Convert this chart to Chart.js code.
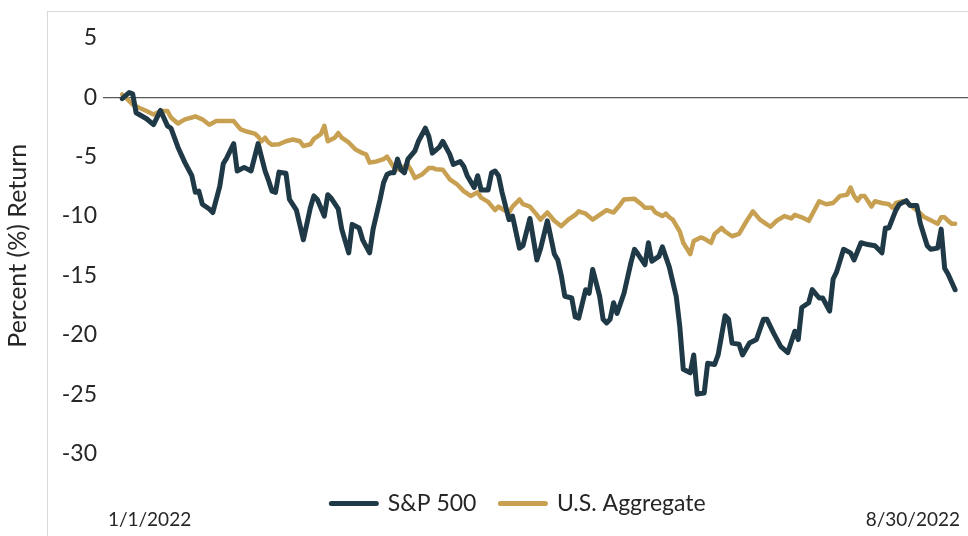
<!DOCTYPE html>
<html>
<head>
<meta charset="utf-8">
<script src="https://cdn.jsdelivr.net/npm/chart.js@4/dist/chart.umd.min.js"></script>
<style>
  body { margin: 0; background: #fff; }
  #wrap { position: relative; width: 968px; height: 536px; overflow: hidden; }
  #frame { position: absolute; left: 47px; top: 11px; width: 940px; height: 560px; border: 1px solid #d9d9d9; }
  #chart { position: relative; }
</style>
</head>
<body>
<div id="wrap">
  <div id="frame"></div>
  <canvas id="chart" width="968" height="536"></canvas>
</div>
<script>
// days counted from 1/1/2022, returns in percent
const seriesNames = ['S&P 500', 'U.S. Aggregate'];
const xTickLabels = ['1/1/2022', '8/30/2022'];

const spDays = [2,4,5,6,9,11,13,15,16,18,20,22,23,24,25,27,28,30,31,32,34,35,37,39,41,43,44,45,46,47,48,49,50,52,54,56,57,58,60,61,62,64,65,67,68,70,71,73,74,76,77,78,79,80,81,82,83,84,86,87,89,90,91,93,94,96,97,99,100,101,103,104,105,107,108,109,110,111,113,114,116,117,119,121,122,124,126,127,128,129,131,132,133,135,136,137,139,140,141,142,143,144,146,148,149,150,152,153,154,156,157,159,161,162,163,165,166,167,169,170,172,173,175,176,177,179,180,182,184,186,187,189,191,193,195,196,197,199,200,202,203,205,206,207,209,211,212,214,216,218,220,221,222,224,225,227,228,230,231,233,234,236,237,238,239,241];
const spReturn = [-0.1,0.4,0.3,-1.3,-1.8,-2.3,-1.1,-2.4,-2.6,-4.2,-5.5,-6.6,-8.0,-7.9,-9.0,-9.4,-9.7,-7.5,-5.6,-5.1,-3.9,-6.2,-5.9,-6.2,-3.9,-6.2,-7.0,-7.9,-8.0,-6.3,-6.35,-6.4,-8.6,-9.5,-12.0,-9.3,-8.3,-8.6,-10.0,-8.2,-8.5,-9.4,-11.1,-13.1,-10.7,-11.0,-12.0,-13.1,-11.1,-8.6,-7.2,-6.5,-6.35,-6.35,-5.2,-6.1,-6.35,-5.2,-4.5,-3.7,-2.6,-3.3,-4.7,-4.2,-3.7,-4.8,-5.65,-5.4,-5.8,-6.6,-7.6,-6.6,-7.8,-7.8,-6.35,-6.2,-6.6,-8.0,-10.3,-10.0,-12.7,-12.5,-10.2,-13.7,-12.8,-10.4,-13.2,-13.7,-15.0,-16.75,-16.9,-18.5,-18.6,-16.2,-16.5,-14.5,-16.75,-18.7,-19.0,-18.7,-17.3,-18.2,-16.5,-13.9,-12.8,-13.2,-14.1,-12.25,-13.8,-13.4,-12.6,-14.3,-16.8,-19.3,-22.9,-23.2,-21.7,-25.0,-24.9,-22.4,-22.5,-21.7,-18.4,-18.7,-20.7,-20.8,-21.7,-20.7,-20.4,-18.7,-18.7,-19.9,-21.0,-21.5,-19.7,-20.4,-17.7,-17.3,-16.2,-16.9,-16.9,-18.0,-15.3,-14.7,-12.8,-13.1,-13.7,-12.25,-12.4,-12.5,-13.1,-11.0,-11.0,-9.5,-9.0,-8.7,-9.1,-9.1,-10.6,-12.5,-12.8,-12.7,-11.1,-14.4,-14.9,-16.2];

const aggDays = [2,3,5,7,9,11,12,13,15,16,18,20,22,23,25,27,29,31,34,36,38,40,41,42,43,44,45,47,49,51,53,54,56,57,59,60,61,63,64,65,67,69,71,72,73,75,77,78,80,81,82,83,84,85,86,88,90,91,92,94,96,98,100,102,104,105,107,109,110,111,113,114,116,117,119,121,122,124,126,128,130,132,133,135,137,139,141,143,145,146,149,151,152,154,155,157,158,159,160,162,163,165,166,168,169,171,172,174,175,177,179,181,183,185,188,190,192,194,195,197,199,202,204,206,208,210,211,212,213,214,215,217,218,220,222,223,224,226,228,229,230,232,234,236,237,238,239,240,241];
const aggReturn = [0.25,0.0,-0.6,-0.9,-1.15,-1.45,-1.3,-1.15,-1.15,-1.7,-2.2,-1.85,-1.7,-1.6,-1.85,-2.3,-2.0,-2.0,-2.0,-2.7,-2.9,-3.05,-3.3,-3.7,-3.4,-3.8,-4.0,-3.95,-3.7,-3.55,-3.7,-4.1,-3.95,-3.5,-3.1,-2.4,-3.7,-3.4,-3.0,-3.4,-3.8,-4.4,-4.7,-4.8,-5.5,-5.4,-5.2,-5.0,-5.9,-6.05,-6.05,-5.8,-5.7,-6.2,-6.8,-6.5,-5.95,-5.95,-6.05,-6.1,-6.9,-7.3,-7.9,-8.3,-8.0,-8.45,-8.8,-9.5,-9.2,-9.4,-9.7,-9.2,-8.6,-9.0,-9.2,-9.9,-10.3,-9.7,-10.4,-10.85,-10.3,-9.9,-9.6,-9.8,-10.3,-9.9,-9.5,-9.7,-9.0,-8.6,-8.55,-9.0,-9.3,-9.3,-9.7,-10.0,-9.8,-10.1,-10.3,-11.3,-12.25,-13.2,-12.1,-11.8,-11.9,-12.25,-11.5,-11.0,-11.3,-11.7,-11.5,-10.5,-9.6,-10.3,-10.9,-10.35,-10.0,-10.2,-9.9,-10.1,-10.4,-8.75,-9.0,-8.9,-8.3,-8.2,-7.6,-8.3,-8.7,-8.3,-8.3,-9.2,-8.75,-8.9,-9.0,-9.3,-8.9,-8.75,-9.0,-9.3,-9.5,-10.05,-10.35,-10.65,-10.1,-10.1,-10.4,-10.65,-10.65];

const ink = '#262626';
Chart.defaults.font.family = 'Lato, "Open Sans", sans-serif';
Chart.defaults.color = ink;

const toPoints = (days, vals) => days.map((d, i) => ({ x: d, y: vals[i] }));

// nudge the legend a little left, the way it sits in the original
const legendShift = {
  id: 'legendShift',
  afterLayout: chart => {
    if (chart.legend) {
      chart.legend.left -= 17;
      chart.legend.right -= 17;
    }
  }
};

const returnChart = new Chart(document.getElementById('chart'), {
  type: 'line',
  data: {
    datasets: [{
      label: seriesNames[0],
      data: toPoints(spDays, spReturn),
      borderColor: '#1f3947',
      borderWidth: 5,
    }, {
      label: seriesNames[1],
      data: toPoints(aggDays, aggReturn),
      borderColor: '#c8a052',
      borderWidth: 4.5,
    }]
  },
  plugins: [legendShift],
  options: {
    responsive: false,
    animation: false,
    layout: { padding: { top: 38, right: 0, bottom: 11, left: 0 } },
    elements: {
      point: { radius: 0, hoverRadius: 0, pointStyle: 'line' },
      line: { tension: 0, borderJoinStyle: 'round', borderCapStyle: 'round' }
    },
    plugins: {
      tooltip: { enabled: false },
      legend: {
        position: 'bottom',
        fullSize: false,
        labels: {
          usePointStyle: true,
          pointStyle: 'line',
          pointStyleWidth: 45,
          padding: 24,
          color: ink,
          font: { size: 23 },
          generateLabels: chart => {
            const items = Chart.defaults.plugins.legend.labels.generateLabels(chart);
            items.forEach(it => { it.lineWidth = 5; it.lineCap = 'round'; });
            return items;
          }
        }
      }
    },
    scales: {
      x: {
        type: 'linear',
        min: -3.5,
        max: 244.7,
        grid: { display: false, drawTicks: false },
        border: { display: false },
        // two date labels only, tucked slightly in from the plot ends
        afterBuildTicks: axis => { axis.ticks = [{ value: axis.min + 1.4 }, { value: axis.max - 2.3 }]; },
        afterFit: axis => { axis.height = 14.5; },
        ticks: {
          align: 'inner',
          mirror: true,
          padding: -77.4,
          maxRotation: 0,
          autoSkip: false,
          font: { size: 19 },
          callback: (v, i) => xTickLabels[i]
        }
      },
      y: {
        min: -30,
        max: 5,
        afterFit: axis => { axis.width = 103; },
        ticks: { stepSize: 5, padding: 6, font: { size: 23 } },
        grid: {
          drawTicks: false,
          lineWidth: 1.2,
          color: c => c.tick.value === 0 ? '#595959' : 'rgba(0,0,0,0)'
        },
        border: { display: false },
        title: {
          display: true,
          text: 'Percent (%) Return',
          font: { size: 25 },
          padding: { top: 3, bottom: 0 }
        }
      }
    }
  }
});
</script>
</body>
</html>
